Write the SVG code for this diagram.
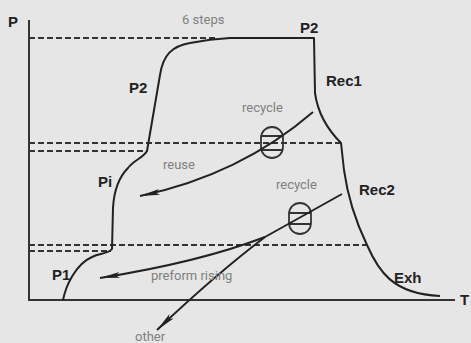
<svg xmlns="http://www.w3.org/2000/svg" width="471" height="343" viewBox="0 0 471 343">
<defs>
<style>
.bg{fill:#e6e6e6}
.axis{stroke:#333;stroke-width:2;fill:none}
.curve{stroke:#222;stroke-width:2;fill:none;stroke-linejoin:round}
.dash{stroke:#333;stroke-width:2;stroke-dasharray:6,3;fill:none}
.valve{stroke:#333;stroke-width:1.8;fill:none}
.arrow{stroke:#222;stroke-width:2;fill:none;marker-end:url(#ah)}
.bold{font-family:"Liberation Sans",Arial,sans-serif;font-weight:bold;font-size:15px;fill:#222}
.note{font-family:Roboto,"Liberation Sans",sans-serif;font-weight:400;font-size:13px;fill:#808080}
</style>
<marker id="ah" markerUnits="userSpaceOnUse" markerWidth="22" markerHeight="8" refX="20" refY="4" orient="auto">
<path d="M0,1 L20,4 L0,7 L4,4 Z" fill="#222"/>
</marker>
</defs>
<rect class="bg" x="0" y="0" width="471" height="343"/>

<g id="axes">
<path class="axis" d="M29,20 L29,300 L455,300"/>
</g>

<g id="guides">
<path class="dash" d="M29,38 L216,38"/>
<path class="dash" d="M29,143 L341,143"/>
<path class="dash" d="M29,151 L147,151"/>
<path class="dash" d="M29,245 L367,245"/>
<path class="dash" d="M29,251 L111,251"/>
</g>

<g id="pressure-curve">
<path class="curve" d="M63,300 C66,285 76,264 92,257 C100,253 108,254 112,249 L113,208 C114,190 120,176 128,168 C134,160 143,158 147,151 L160,75 C163,55 172,46 190,43 C200,41 210,39 230,38 L314,38 L315,93 C318,115 328,130 341,143 L344,170 C347,192 354,218 367,245 C378,270 392,294 440,296"/>
</g>

<g id="valve-upper">
<rect class="valve" x="261" y="127" width="22" height="31" rx="11"/>
<path class="valve" d="M262,136 L282,136 M262,150 L282,150"/>
</g>
<g id="valve-lower">
<rect class="valve" x="289" y="203" width="22" height="31" rx="11"/>
<path class="valve" d="M290,213 L310,213 M290,224 L310,224"/>
</g>

<g id="connectors">
<path class="arrow" d="M313,112 Q240,175 140,196"/>
<path class="curve" d="M342,194 L265,237"/>
<path class="arrow" d="M265,237 Q200,262 100,278"/>
<path class="arrow" d="M265,237 Q215,275 157,330"/>
</g>

<g id="labels">
<text class="bold" x="8" y="27">P</text>
<text class="bold" x="129" y="93">P2</text>
<text class="bold" x="300" y="33">P2</text>
<text class="bold" x="326" y="86">Rec1</text>
<text class="bold" x="98" y="187">Pi</text>
<text class="bold" x="359" y="195">Rec2</text>
<text class="bold" x="52" y="280">P1</text>
<text class="bold" x="394" y="283">Exh</text>
<text class="bold" x="460" y="305">T</text>
<text class="note" x="182" y="24">6 steps</text>
<text class="note" x="242" y="112">recycle</text>
<text class="note" x="163" y="169">reuse</text>
<text class="note" x="276" y="189">recycle</text>
<text class="note" x="151" y="280">preform rising</text>
<text class="note" x="135" y="341">other</text>
</g>
</svg>
